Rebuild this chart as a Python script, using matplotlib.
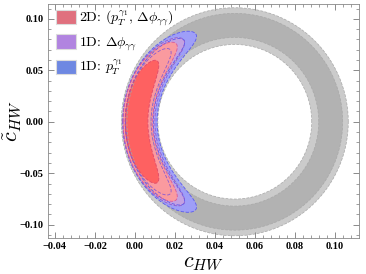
import numpy as np
import matplotlib.pyplot as plt
from matplotlib.patches import Patch

plt.rcParams['mathtext.fontset'] = 'cm'

# ring (gray band): centre and radial levels (x units), y stretched by y_scale
ring_center = 0.05
y_scale = 1.95
ring_levels = [0.0385, 0.042, 0.054, 0.0568]   # inner light, dark, dark, outer light
ring_light = '#cbcbcb'
ring_dark = '#b2b2b2'

# crescent regions: (rho centre, half width, max angle deg)
blue_95 = (0.0475, 0.0086, 66)
blue_68 = (0.0478, 0.0070, 58)
purple_95 = (0.0480, 0.0080, 58)
purple_68 = (0.0483, 0.0064, 48)
red_95 = (0.0485, 0.0074, 53)
red_68 = (0.0492, 0.0057, 38)

legend_labels = [r'2D: $(p_T^{\gamma_1},\,\Delta\phi_{\gamma\gamma})$',
                 r'1D: $\Delta\phi_{\gamma\gamma}$',
                 r'1D: $p_T^{\gamma_1}$']
legend_colors = ['#e0707e', '#b184e0', '#6e88e2']


def ring_xy(r, n=400):
    t = np.linspace(0, 2*np.pi, n)
    return ring_center + r*np.cos(t), y_scale*r*np.sin(t)


def crescent_xy(par, p=3.0, n=400):
    rc, w, phim = par
    t = np.linspace(0, 2*np.pi, n)
    rho = rc + w*np.cos(t)
    s = np.sin(t)
    phi = np.radians(phim)*np.sign(s)*np.abs(s)**(2.0/p)
    ang = np.pi - phi
    return ring_center + rho*np.cos(ang), y_scale*rho*np.sin(ang)


fig = plt.figure(figsize=(3.66, 2.74), dpi=100)
ax = fig.add_axes([0.131, 0.131, 0.849, 0.853])

# gray ring
xo, yo = ring_xy(ring_levels[3])
xi, yi = ring_xy(ring_levels[0])
ax.fill(np.r_[xo, xi[::-1]], np.r_[yo, yi[::-1]], color=ring_light, lw=0)
xo, yo = ring_xy(ring_levels[2])
xi, yi = ring_xy(ring_levels[1])
ax.fill(np.r_[xo, xi[::-1]], np.r_[yo, yi[::-1]], color=ring_dark, lw=0)
for r in ring_levels:
    x, y = ring_xy(r)
    ax.plot(x, y, color='#a8a8a8', lw=0.5, ls=(0, (4, 2)))

# crescents
regions = [(blue_95, '#9d9dff', '#5a5aee'),
           (blue_68, '#8f8ff5', '#5a5aee'),
           (purple_95, '#c9a3e0', '#8a5ad0'),
           (purple_68, '#c494d8', '#8a5ad0'),
           (red_95, '#ff9b9b', '#d85a9a'),
           (red_68, '#ff5c5c', '#e04a6a')]
for par, fc, ec in regions:
    x, y = crescent_xy(par)
    ax.fill(x, y, color=fc, lw=0, alpha=0.92)
    ax.plot(x, y, color=ec, lw=0.6, ls=(0, (4, 2)))

xmaj = np.arange(-0.04, 0.101, 0.02)
ymaj = np.arange(-0.10, 0.101, 0.05)


def fmt(v):
    return ('%.2f' % v).replace('-', '\u2212') if abs(v) > 1e-9 else '0.00'


ax.set_xlim(-0.0435, 0.112)
ax.set_ylim(-0.113, 0.114)
ax.set_xticks(xmaj)
ax.set_xticks(np.arange(-0.04, 0.112, 0.004), minor=True)
ax.set_yticks(ymaj)
ax.set_yticks(np.arange(-0.11, 0.114, 0.01), minor=True)
ax.set_xticklabels([fmt(v) for v in xmaj])
ax.set_yticklabels([fmt(v) for v in ymaj])
ax.tick_params(which='both', direction='in', top=True, right=True, color='#777777')
ax.tick_params(which='major', length=4, width=0.6, pad=3)
ax.tick_params(which='minor', length=2, width=0.5)
for lab in ax.get_xticklabels() + ax.get_yticklabels():
    lab.set_fontfamily('Liberation Serif')
    lab.set_fontweight('bold')
    lab.set_fontsize(7.5)
for s in ax.spines.values():
    s.set_color('#888888')
    s.set_linewidth(0.6)

ax.set_xlabel(r'$c_{HW}$', fontsize=16, labelpad=1)
ax.set_ylabel(r'$\tilde{c}_{HW}$', fontsize=16, labelpad=-2)

handles = [Patch(facecolor=c, edgecolor='#dcdcdc', lw=0.8) for c in legend_colors]
ax.legend(handles, legend_labels, loc='upper left', frameon=False,
          prop={'family': ['cmr10', 'DejaVu Serif'], 'size': 10},
          handlelength=1.45, handleheight=1.25, handletextpad=0.25, labelspacing=0.4,
          borderaxespad=0.0, borderpad=0.3, bbox_to_anchor=(0.012, 1.0))

fig.savefig('out.png', dpi=100)
